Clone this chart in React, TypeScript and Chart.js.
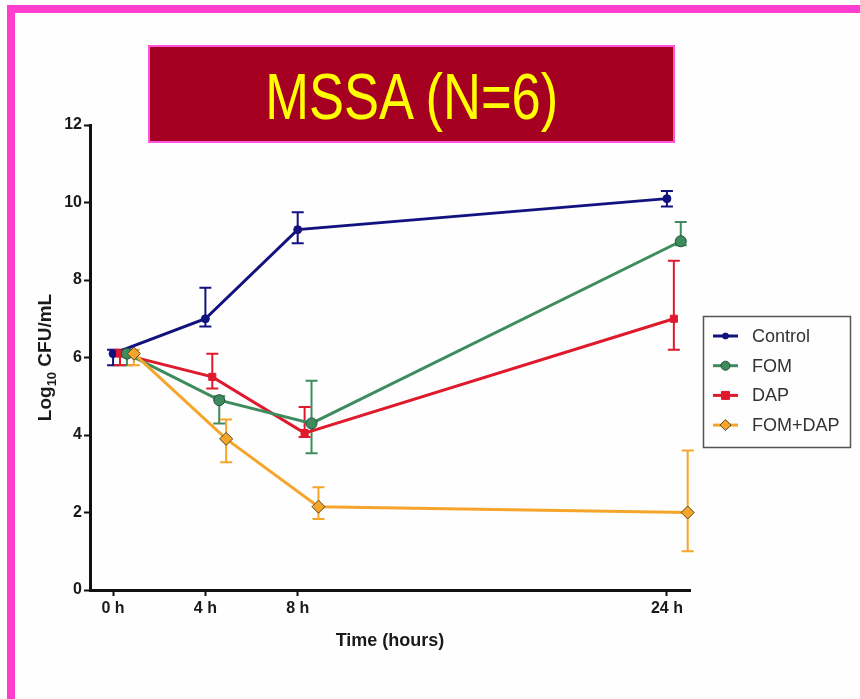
import React, { useEffect, useRef } from "react";
import { Chart, registerables } from "chart.js";

Chart.register(...registerables);

// ---- data ----
const TIMES = [0, 4, 8, 24];
const X_TICK_LABELS = ["0 h", "4 h", "8 h", "24 h"];
const SERIES_NAMES = ["Control", "FOM", "DAP", "FOM+DAP"];
const X_OFFSETS = [0, 0.6, 0.3, 0.9];

const CONTROL = [6.1, 7.0, 9.3, 10.1];
const FOM = [6.1, 4.9, 4.3, 9.0];
const DAP = [6.1, 5.5, 4.05, 7.0];
const FOM_DAP = [6.1, 3.9, 2.15, 2.0];

const CONTROL_UP = [0.1, 0.8, 0.45, 0.2];
const CONTROL_DOWN = [0.3, 0.2, 0.35, 0.2];
const FOM_UP = [0.1, 0.1, 1.1, 0.5];
const FOM_DOWN = [0.3, 0.6, 0.77, 0.1];
const DAP_UP = [0.1, 0.6, 0.67, 1.5];
const DAP_DOWN = [0.3, 0.3, 0.1, 0.8];
const FOM_DAP_UP = [0.1, 0.5, 0.5, 1.6];
const FOM_DAP_DOWN = [0.3, 0.6, 0.32, 1.0];

const COLORS = ["#12127e", "#3e8c5e", "#df1a2c", "#f6a52b"];
const BORDERS = ["#12127e", "#24503a", "#df1a2c", "#5a4620"];
const STYLES = ["circle", "circle", "rect", "rectRot"];
const RADII = [4, 5.5, 5, 6.5];

const VALUES = [CONTROL, FOM, DAP, FOM_DAP];
const UPS = [CONTROL_UP, FOM_UP, DAP_UP, FOM_DAP_UP];
const DOWNS = [CONTROL_DOWN, FOM_DOWN, DAP_DOWN, FOM_DAP_DOWN];
const DRAW_ORDER = [3, 1, 2, 0];

const FONT = "'Liberation Sans', Arial, sans-serif";

function drawMarker(ctx: CanvasRenderingContext2D, style: string, x: number, y: number, r: number, fill: string, stroke: string) {
  ctx.save();
  ctx.fillStyle = fill;
  ctx.strokeStyle = stroke;
  ctx.lineWidth = 1;
  ctx.beginPath();
  if (style === "circle") {
    ctx.arc(x, y, r, 0, Math.PI * 2);
  } else if (style === "rect") {
    ctx.rect(x - r, y - r, 2 * r, 2 * r);
  } else {
    ctx.moveTo(x, y - r);
    ctx.lineTo(x + r, y);
    ctx.lineTo(x, y + r);
    ctx.lineTo(x - r, y);
    ctx.closePath();
  }
  ctx.fill();
  ctx.stroke();
  ctx.restore();
}

const errorBarPlugin = {
  id: "errorBars",
  beforeDatasetsDraw(chart: any) {
    const ctx = chart.ctx;
    const xs = chart.scales.x;
    const ys = chart.scales.y;
    ctx.save();
    for (let i = 0; i < VALUES.length; i++) {
      ctx.strokeStyle = COLORS[i];
      ctx.lineWidth = 2;
      for (let j = 0; j < TIMES.length; j++) {
        const x = xs.getPixelForValue(TIMES[j] + X_OFFSETS[i]);
        const yt = ys.getPixelForValue(VALUES[i][j] + UPS[i][j]);
        const yb = ys.getPixelForValue(VALUES[i][j] - DOWNS[i][j]);
        ctx.beginPath();
        ctx.moveTo(x, yt);
        ctx.lineTo(x, yb);
        ctx.moveTo(x - 6, yt);
        ctx.lineTo(x + 6, yt);
        ctx.moveTo(x - 6, yb);
        ctx.lineTo(x + 6, yb);
        ctx.stroke();
      }
    }
    ctx.restore();
  },
};

const decorPlugin = {
  id: "decor",
  afterDraw(chart: any) {
    const ctx: CanvasRenderingContext2D = chart.ctx;
    const area = chart.chartArea;
    ctx.save();
    // x title
    ctx.fillStyle = "#1a1a1a";
    ctx.font = `bold 18px ${FONT}`;
    ctx.textAlign = "center";
    ctx.textBaseline = "alphabetic";
    ctx.fillText("Time (hours)", (area.left + area.right) / 2, 646);

    // y title with subscript
    ctx.translate(51, (area.top + area.bottom) / 2);
    ctx.rotate(-Math.PI / 2);
    const big = `bold 19px ${FONT}`;
    const small = `bold 13px ${FONT}`;
    ctx.font = big;
    const w1 = ctx.measureText("Log").width;
    const w3 = ctx.measureText(" CFU/mL").width;
    ctx.font = small;
    const w2 = ctx.measureText("10").width;
    const total = w1 + w2 + w3;
    const x0 = -total / 2;
    ctx.textAlign = "left";
    ctx.font = big;
    ctx.fillText("Log", x0, 0);
    ctx.font = small;
    ctx.fillText("10", x0 + w1, 5);
    ctx.font = big;
    ctx.fillText(" CFU/mL", x0 + w1 + w2, 0);
    ctx.restore();

    // legend
    ctx.save();
    ctx.strokeStyle = "#555";
    ctx.lineWidth = 1.5;
    ctx.strokeRect(703.5, 316.5, 147, 131);
    ctx.font = `18px ${FONT}`;
    ctx.textBaseline = "middle";
    ctx.textAlign = "left";
    for (let i = 0; i < SERIES_NAMES.length; i++) {
      const y = 336 + i * 29.7;
      ctx.strokeStyle = COLORS[i];
      ctx.lineWidth = 3;
      ctx.beginPath();
      ctx.moveTo(713, y);
      ctx.lineTo(738, y);
      ctx.stroke();
      drawMarker(ctx, STYLES[i], 725.5, y, RADII[i] - 1, COLORS[i], BORDERS[i]);
      ctx.fillStyle = "#333";
      ctx.fillText(SERIES_NAMES[i], 752, y + 1);
    }
    ctx.restore();
  },
};

export default function App() {
  const ref = useRef<HTMLCanvasElement | null>(null);

  useEffect(() => {
    if (!ref.current) return;
    const datasets = VALUES.map((vals, i) => ({
      label: SERIES_NAMES[i],
      data: TIMES.map((t, j) => ({ x: t + X_OFFSETS[i], y: vals[j] })),
      borderColor: COLORS[i],
      backgroundColor: COLORS[i],
      borderWidth: 3,
      tension: 0,
      pointStyle: STYLES[i],
      pointRadius: RADII[i],
      pointBackgroundColor: COLORS[i],
      pointBorderColor: BORDERS[i],
      pointBorderWidth: 1,
      order: DRAW_ORDER[i],
      clip: false as any,
    }));

    const chart = new Chart(ref.current, {
      type: "line",
      data: { datasets },
      options: {
        responsive: false,
        animation: false,
        maintainAspectRatio: false,
        layout: { padding: { left: 0, top: 125, right: 170, bottom: 59 } },
        plugins: { legend: { display: false }, tooltip: { enabled: false } },
        scales: {
          x: {
            type: "linear",
            min: -1,
            max: 25,
            afterBuildTicks: (s: any) => {
              s.ticks = TIMES.map((v) => ({ value: v }));
            },
            afterFit: (s: any) => {
              s.height = 50;
            },
            grid: {
              display: true,
              drawOnChartArea: false,
              drawTicks: true,
              tickLength: 6,
              tickWidth: 2,
              tickColor: "#111",
            },
            border: { display: true, color: "#111", width: 3 },
            ticks: {
              color: "#1a1a1a",
              font: { family: FONT, size: 16, weight: "bold" },
              padding: 3,
              maxRotation: 0,
              callback: (v: any) => {
                const k = TIMES.indexOf(Number(v));
                return k >= 0 ? X_TICK_LABELS[k] : "";
              },
            },
          },
          y: {
            min: 0,
            max: 12,
            afterFit: (s: any) => {
              s.width = 90;
            },
            grid: {
              display: true,
              drawOnChartArea: false,
              drawTicks: true,
              tickLength: 6,
              tickWidth: 2,
              tickColor: "#111",
            },
            border: { display: true, color: "#111", width: 3 },
            ticks: {
              stepSize: 2,
              color: "#1a1a1a",
              font: { family: FONT, size: 16, weight: "bold" },
              padding: 2,
            },
          },
        },
      },
      plugins: [errorBarPlugin, decorPlugin],
    } as any);

    return () => chart.destroy();
  }, []);

  return (
    <div
      style={{
        position: "fixed",
        left: 0,
        top: 0,
        width: 860,
        height: 699,
        background: "#fefefe",
        overflow: "hidden",
      }}
    >
      <div style={{ position: "absolute", left: 7, top: 5, width: 853, height: 8, background: "#ff3dcf" }} />
      <div style={{ position: "absolute", left: 7, top: 5, width: 8, height: 694, background: "#ff3dcf" }} />
      <canvas
        ref={ref}
        width={860}
        height={699}
        style={{ position: "absolute", left: 0, top: 0, width: 860, height: 699 }}
      />
      <div
        style={{
          position: "absolute",
          left: 148,
          top: 45,
          width: 527,
          height: 98,
          boxSizing: "border-box",
          border: "2px solid #ff55dd",
          background: "#a50021",
          display: "flex",
          alignItems: "center",
          justifyContent: "center",
          overflow: "hidden",
        }}
      >
        <span
          style={{
            display: "inline-block",
            color: "#ffff00",
            fontFamily: "'Liberation Sans', Arial, sans-serif",
            fontSize: 64,
            lineHeight: 1,
            whiteSpace: "nowrap",
            transform: "scaleX(0.82)",
            marginTop: 6,
          }}
        >
          MSSA (N=6)
        </span>
      </div>
    </div>
  );
}
